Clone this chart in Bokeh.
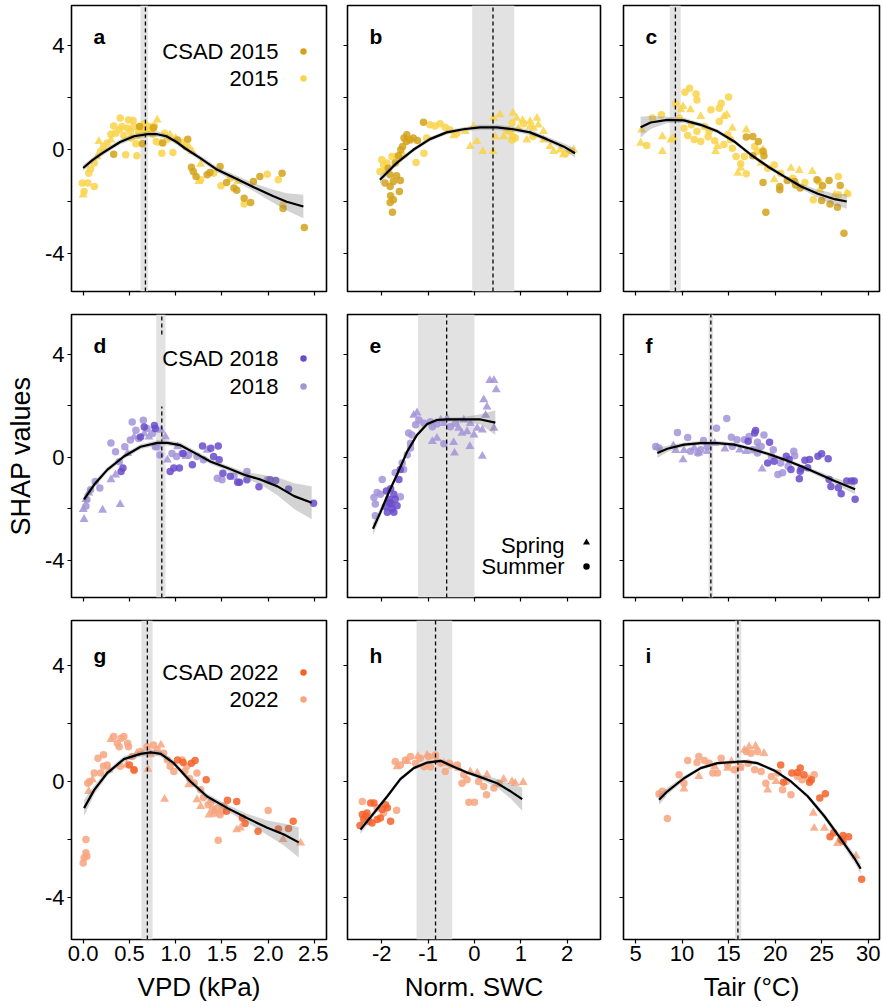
import numpy as np
from bokeh.plotting import figure
from bokeh.layouts import gridplot
from bokeh.models import Range1d, FixedTicker, BoxAnnotation
from bokeh.embed import file_html
from bokeh.resources import INLINE
from bokeh.core.properties import value

FONT = "Liberation Sans"

# ------------------------------------------------------------------ data
# panel a : VPD 2015
a_sum_x = [-0.01,0.01,0.05,0.12,0.06,0.08,0.12,0.19,0.22,0.26,0.33,0.35,0.39,0.40,0.42,0.46,0.48,0.49,0.51,0.54,
           0.55,0.57,0.58,0.62,0.65,0.66,0.71,0.73,0.77,0.79,0.85,0.88,0.91,0.97,1.07,1.11,1.27,1.41,1.49,1.59,
           1.74,1.99,2.11,2.16,0.30,0.44,0.52,0.60,0.68,0.75]
a_sum_y = [-1.28,-1.60,-1.28,-1.41,-0.90,-0.74,-0.51,-0.06,0.13,0.26,0.92,0.64,0.77,1.22,0.90,-0.19,0.83,1.15,0.71,1.13,
           0.90,0.23,-0.23,0.90,0.64,1.00,0.90,0.74,0.92,0.32,-0.13,0.64,0.41,-0.10,0.28,0.13,-1.15,-0.90,-1.38,-1.09,
           -2.08,-0.94,-1.15,-2.12,0.60,0.55,0.45,0.70,0.80,0.60]
a_spr_x = [0.00,0.15,0.17,0.30,0.58,0.69,0.80,0.84,0.94,1.00,1.14,1.18,1.25,1.27,1.67]
a_spr_y = [-1.73,-0.26,0.32,0.38,0.51,0.71,1.15,0.26,0.58,0.45,0.13,-0.06,-1.22,-0.55,-1.22]
a_csad_x = [0.33,0.61,0.64,0.76,0.86,1.02,1.13,1.17,1.19,1.22,1.34,1.37,1.48,1.55,1.63,1.66,1.74,1.81,1.84,1.91,2.15,2.16,2.39]
a_csad_y = [-0.17,0.90,0.23,0.85,0.26,0.38,0.41,-0.67,-0.83,-1.03,-0.96,-0.87,-0.64,-1.26,-1.47,-1.56,-1.86,-2.03,-1.22,-1.03,-0.90,-2.26,-2.99]
a_fit_x = [0.0,0.1,0.2,0.3,0.4,0.55,0.7,0.8,0.9,1.0,1.1,1.27,1.45,1.65,1.85,2.05,2.2,2.38]
a_fit_y = [-0.70,-0.40,-0.15,0.08,0.30,0.52,0.60,0.60,0.52,0.32,0.06,-0.33,-0.77,-1.10,-1.45,-1.78,-2.0,-2.18]
a_fit_ci = [0.12,0.1,0.1,0.1,0.1,0.1,0.1,0.1,0.1,0.1,0.1,0.1,0.1,0.12,0.15,0.25,0.33,0.45]
a_opt = 0.673
a_band = (0.62, 0.70)

# panel b : SWC 2015
b_sum_x = [-2.00,-1.96,-1.93,-2.04,-1.89,-1.78,-1.68,-1.57,-1.26,-1.09,-1.03,-0.96,-0.85,-0.74,-0.63,-0.53,-0.38,
           0.77,0.88,0.83,0.81,1.06,0.81,1.26,1.96]
b_sum_y = [-0.38,-0.58,-0.79,-0.83,-0.51,-0.26,-0.26,-0.19,-0.49,-0.13,0.45,0.96,0.92,1.00,0.87,0.77,0.64,
           0.71,0.45,0.51,1.03,1.00,0.38,0.51,-0.15]
b_spr_x = [-0.09,0.05,0.18,0.40,0.41,0.55,0.45,0.63,0.83,0.91,1.04,1.20,1.35,1.38,1.27,1.49,1.63,1.71,1.85,1.92,
           2.06,2.14,-0.02,-0.20,-0.45,1.13,0.70,0.95,1.49,1.20]
b_spr_y = [0.13,0.32,-0.06,-0.06,1.22,1.35,0.51,0.51,1.41,1.22,1.13,1.09,1.22,0.96,0.83,0.71,0.13,-0.06,0.0,-0.19,
           -0.06,0.0,0.90,0.71,0.54,0.38,0.71,0.83,0.38,0.90]
b_csad_x = [-1.10,-1.46,-1.52,-1.47,-1.39,-1.55,-1.59,-1.64,-1.71,-1.82,-1.68,-1.60,-1.75,-1.93,-1.82,-1.62,-1.81,
            -1.75,-1.82,-1.77,-1.32,-1.23,-1.86]
b_csad_y = [1.06,0.58,0.45,0.32,0.38,0.13,0.0,-0.23,-0.51,-0.96,-1.0,-1.18,-1.22,-1.28,-1.41,-1.60,-1.77,
            -1.92,-2.03,-2.40,0.45,0.36,-0.71]
b_fit_x = [-2.04,-1.68,-1.32,-0.96,-0.60,-0.24,0.12,0.48,0.84,1.20,1.56,1.92,2.17]
b_fit_y = [-1.15,-0.51,0.0,0.41,0.67,0.79,0.86,0.86,0.79,0.67,0.41,0.13,-0.13]
b_fit_ci = [0.15,0.1,0.08,0.08,0.08,0.08,0.1,0.1,0.1,0.1,0.1,0.12,0.18]
b_opt = 0.40
b_band = (-0.05, 0.86)

# panel c : Tair 2015
c_sum_x = [6.19,6.80,7.77,9.32,10.3,10.8,11.5,11.6,10.2,11.0,11.6,12.4,12.9,13.1,14.0,14.2,15.0,14.0,14.9,15.4,
           15.8,16.3,16.9,16.7,17.8,18.1,19.2,19.9,20.6,21.9,23.2,24.1,24.7,26.8,27.8,26.8,9.68,12.0,
           10.6,11.3,12.8,13.5,14.5,15.2]
c_sum_y = [0.17,1.22,1.35,1.77,2.21,2.37,2.15,1.92,0.83,0.96,0.71,0.90,0.71,1.54,1.60,1.79,2.03,1.09,0.58,0.06,
           -0.26,-0.54,-0.92,-0.26,0.13,-0.06,-0.71,-0.58,-0.90,-1.09,-1.26,-1.92,-1.22,-1.73,-1.69,-1.03,1.22,0.32,
           0.55,0.40,0.50,0.35,0.20,0.40]
c_spr_x = [5.54,5.65,7.88,7.88,8.78,9.06,9.86,10.1,10.9,12.0,13.6,13.8,14.5,14.8,15.4,16.9,16.0,16.3,18.7,18.5,
           19.9,21.7,22.6,24.0,24.8,26.4,27.7]
c_spr_y = [0.26,0.77,0.51,-0.06,0.38,0.45,1.54,1.67,1.54,1.28,-0.06,0.13,1.28,1.35,0.83,0.77,-0.90,-0.71,0.0,-0.51,
           -1.15,-0.71,-0.79,-0.83,-1.54,-1.73,-1.67]
c_csad_x = [16.9,18.2,18.7,18.8,18.7,19.0,20.5,20.5,21.3,22.1,22.2,22.7,24.5,25.1,25.8,25.0,25.9,26.7,27.0,27.4,17.6,17.6]
c_csad_y = [0.49,0.32,-0.06,-0.23,-1.26,-2.40,-1.41,-1.54,-1.18,-1.22,-1.35,-1.47,-1.15,-1.38,-1.18,-1.95,-2.08,-2.21,-1.37,-3.21,-0.23,0.51]
c_fit_x = [5.54,6.62,8.42,10.2,12.0,13.8,15.6,17.4,19.2,21.0,22.8,24.6,26.4,27.7]
c_fit_y = [0.87,1.05,1.15,1.13,0.96,0.71,0.32,-0.19,-0.64,-1.03,-1.41,-1.69,-1.90,-1.99]
c_fit_ci = [0.4,0.25,0.12,0.1,0.08,0.08,0.08,0.08,0.08,0.08,0.1,0.15,0.22,0.28]
c_opt = 9.28
c_band = (8.67, 9.85)

# panel d : VPD 2018
d_sum_x = [0.03,0.04,0.08,0.13,0.18,0.30,0.35,0.39,0.45,0.51,0.53,0.57,0.60,0.65,0.69,0.75,0.78,0.83,0.96,1.01,
           1.07,1.14,1.23,1.30,1.45,1.50,1.63,1.77,1.99,0.80]
d_sum_y = [-1.90,-1.64,-1.26,-0.94,-1.19,0.56,0.22,-0.17,0.41,0.67,1.37,1.05,0.73,1.44,1.12,0.92,0.41,0.09,0.15,0.03,
           0.15,0.09,0.03,-0.10,-0.81,-0.87,-0.74,-0.55,-0.87,0.41]
d_spr_x = [0.01,0.00,0.21,0.40,0.03,0.06,0.30,0.35,0.48,0.55,0.66,0.71,0.84,0.89,0.91,1.02,1.11,1.34]
d_spr_y = [-2.41,-2.03,-2.05,-1.83,-1.64,-1.38,-0.87,-0.68,0.15,0.79,0.92,0.79,1.05,0.79,-0.10,0.41,0.03,0.28]
d_csad_x = [0.62,0.66,0.77,0.78,0.94,0.98,1.04,1.08,1.18,1.29,1.38,1.46,1.47,1.51,1.59,1.67,1.69,1.77,1.90,2.02,
            2.08,2.22,2.49,0.41,0.43,1.41]
d_csad_y = [0.79,1.18,1.24,1.12,-0.55,-0.42,-0.42,0.15,-0.29,0.44,0.35,0.44,-0.10,-0.62,-0.74,-0.97,-0.97,-0.87,-1.15,-0.87,
            -0.90,-1.23,-1.79,-0.55,-0.42,0.03]
d_fit_x = [0.01,0.12,0.26,0.44,0.62,0.80,0.91,1.05,1.20,1.38,1.56,1.74,1.92,2.10,2.28,2.47]
d_fit_y = [-1.64,-1.06,-0.49,0.03,0.41,0.56,0.56,0.47,0.18,-0.17,-0.42,-0.68,-0.87,-1.13,-1.51,-1.77]
d_fit_ci = [0.18,0.12,0.1,0.1,0.1,0.1,0.1,0.1,0.1,0.1,0.1,0.12,0.2,0.35,0.5,0.64]
d_opt = 0.85
d_band = (0.79, 0.89)

# panel e : SWC 2018
e_sum_x = [-2.17,-2.14,-2.10,-2.03,-1.99,-2.14,-1.60,-1.71,-1.56,-1.45,-1.38,-1.35,-1.27,-1.20,-1.09,-0.95,-0.91,
           -0.81,-0.66,-0.52,-0.41,-1.53,-1.42,-1.38]
e_sum_y = [-1.56,-1.82,-1.37,-1.44,-0.86,-2.27,-1.53,-0.60,-0.22,0.10,0.36,0.87,1.26,1.45,1.32,1.38,1.19,
           1.29,0.53,1.19,1.32,-0.47,0.94,0.55]
e_spr_x = [-1.31,-1.24,-0.91,-0.81,-0.73,-0.66,-0.59,-0.45,-0.43,-0.34,-0.27,-0.16,-0.10,-0.01,0.06,0.17,0.20,0.27,
           0.24,0.17,0.33,0.42,0.47,0.42,-0.23,-0.09]
e_spr_y = [1.64,1.73,0.62,0.74,1.45,1.32,1.51,0.58,0.17,1.13,0.94,1.00,0.42,0.87,1.13,0.04,2.24,1.96,
           1.64,1.06,2.99,2.99,2.63,1.13,1.45,1.32]
e_csad_x = [-1.81,-1.90,-1.74,-1.85,-1.80,-1.74,-1.88,-1.67,-1.71,-1.78,-1.63,-1.60,-1.83,-1.92]
e_csad_y = [-1.22,-1.31,-1.44,-1.63,-1.82,-2.14,-2.14,-1.88,-1.63,-2.01,-0.86,-0.47,-1.76,-1.91]
e_fit_x = [-2.19,-2.03,-1.85,-1.67,-1.45,-1.24,-1.02,-0.81,-0.59,-0.23,0.13,0.45]
e_fit_y = [-2.78,-2.14,-1.37,-0.67,0.23,0.87,1.29,1.45,1.47,1.47,1.47,1.35]
e_fit_ci = [0.25,0.18,0.12,0.1,0.1,0.08,0.08,0.08,0.08,0.1,0.2,0.48]
e_opt = -0.60
e_band = (-1.22, 0.0)

# panel f : Tair 2018
f_sum_x = [7.16,7.52,9.50,10.6,10.9,11.7,12.0,12.3,12.7,13.7,14.8,15.3,15.4,15.9,16.7,17.2,17.6,18.1,18.5,18.8,
           18.1,19.6,20.3,20.8,21.4,22.0,22.1,20.6,19.8]
f_sum_y = [0.42,0.36,0.96,0.77,0.23,0.17,0.29,0.65,0.42,1.13,1.51,0.78,0.42,0.68,0.68,0.81,0.29,0.58,0.42,0.87,
           0.17,0.04,-0.67,-0.60,-0.35,0.23,0.06,-0.22,0.29]
f_spr_x = [7.34,9.06,9.32,10.1,10.2,11.3,11.8,12.7,13.5,14.6,16.2,16.9,18.6,18.1]
f_spr_y = [0.38,0.45,0.27,-0.09,0.27,0.36,0.17,0.23,0.55,0.33,0.29,0.23,-0.45,0.36]
f_csad_x = [17.9,17.8,17.1,19.4,19.2,19.9,21.2,21.5,21.7,22.6,22.8,23.2,23.5,23.7,24.6,25.0,25.7,25.8,26.0,26.8,
            27.1,27.7,28.2,28.5,28.6,22.7]
f_csad_y = [1.04,0.94,0.62,0.58,-0.22,-0.15,0.04,-0.09,-0.47,-0.83,-0.45,-0.12,-0.41,-0.09,0.04,0.14,-0.06,-0.86,-1.14,-1.18,
            -1.42,-0.92,-0.92,-0.92,-1.63,-0.54]
f_fit_x = [7.34,8.42,10.2,12.0,13.8,15.6,17.4,19.2,21.0,22.8,24.6,26.4,28.6]
f_fit_y = [0.17,0.33,0.49,0.55,0.55,0.49,0.33,0.14,-0.09,-0.35,-0.63,-0.92,-1.24]
f_fit_ci = [0.2,0.12,0.08,0.08,0.08,0.08,0.08,0.08,0.08,0.08,0.1,0.12,0.2]
f_opt = 13.09
f_band = (12.84, 13.34)

# panel g : VPD 2022
g_sum_x = [0.00,0.01,0.03,0.04,0.03,0.05,0.07,0.12,0.16,0.22,0.22,0.26,0.33,0.37,0.39,0.41,0.44,0.48,0.49,0.53,
           0.55,0.62,0.69,0.76,0.80,0.87,0.91,0.94,0.98,1.07,1.12,1.23,1.27,1.38,1.45,1.46,1.50,2.00,0.19,0.40,
           1.40,1.42,1.48,1.52,1.35,1.30,1.20,1.10,1.15]
g_sum_y = [-2.81,-2.63,-2.46,-2.58,-2.00,-0.06,0.00,0.29,0.80,0.92,0.52,0.57,1.55,1.32,1.20,1.49,1.55,1.32,1.20,0.86,
           0.38,1.03,1.20,1.26,1.09,0.97,0.74,0.52,0.34,0.74,0.52,0.29,-0.29,-0.72,-0.92,-2.03,-1.03,-1.00,0.29,0.52,
           -0.95,-1.10,-1.15,-0.85,-0.80,-0.55,-0.05,0.35,0.10]
g_spr_x = [0.30,0.28,0.10,0.06,0.47,0.58,0.70,0.73,0.84,0.88,1.14,1.23,1.27,1.36,1.41,1.66,1.70,2.16,2.35]
g_spr_y = [1.45,0.40,0.06,-0.34,0.57,0.97,0.42,0.92,1.26,-0.61,-0.11,-0.63,-0.86,-1.15,-1.03,-1.66,-1.60,-2.00,-2.12]
g_csad_x = [0.50,0.55,1.02,1.08,1.17,1.21,1.33,1.56,1.55,1.66,1.72,1.75,1.89,2.11,2.22,2.27]
g_csad_y = [0.57,0.40,0.74,0.65,0.63,0.72,0.06,-0.65,-1.03,-0.69,-1.26,-1.45,-1.72,-1.64,-1.62,-1.37]
g_fit_x = [0.01,0.12,0.26,0.44,0.62,0.73,0.84,0.98,1.16,1.34,1.56,1.77,1.99,2.17,2.33]
g_fit_y = [-0.92,-0.29,0.29,0.77,0.95,1.0,0.95,0.63,0.0,-0.52,-0.92,-1.26,-1.60,-1.83,-2.10]
g_fit_ci = [0.28,0.15,0.1,0.1,0.1,0.1,0.1,0.1,0.1,0.1,0.12,0.15,0.25,0.38,0.52]
g_opt = 0.694
g_band = (0.63, 0.75)

# panel h : SWC 2022
h_sum_x = [-2.42,-2.10,-1.96,-1.68,-1.71,-1.60,-1.49,-1.38,-1.27,-1.17,-1.09,-0.99,-0.95,-0.84,-0.73,-0.63,-0.55,
           -0.37,-0.27,-0.23,-0.16,-0.12,0.00,0.09,0.20,0.26,0.42,0.53]
h_sum_y = [-0.69,-0.91,-1.09,-0.99,0.69,0.57,0.74,0.86,0.63,0.80,0.51,0.86,0.51,0.91,0.63,0.34,0.63,
           0.57,-0.06,0.23,0.06,-0.72,-0.72,0.00,-0.17,-0.46,-0.23,-0.06]
h_spr_x = [-1.67,-1.45,-1.22,-1.02,-0.88,-0.81,-0.66,-0.48,-0.34,-0.09,0.06,0.27,0.63,0.81,1.05,0.88]
h_spr_y = [0.51,0.69,0.86,0.91,0.86,0.74,0.63,0.54,0.46,0.34,0.29,0.23,0.08,0.00,-0.03,-0.06]
h_csad_x = [-2.47,-2.42,-2.39,-2.32,-2.28,-2.21,-2.17,-2.10,-2.03,-1.99,-1.92,-1.88,-1.81,-2.24,-2.35]
h_csad_y = [-1.52,-1.14,-1.31,-1.09,-1.37,-1.43,-0.74,-1.31,-1.26,-0.97,-0.80,-0.91,-1.37,-0.74,-1.20]
h_fit_x = [-2.46,-2.17,-1.88,-1.60,-1.31,-1.02,-0.73,-0.45,-0.16,0.13,0.49,0.78,1.03]
h_fit_y = [-1.66,-1.09,-0.51,0.08,0.46,0.65,0.71,0.51,0.31,0.15,-0.06,-0.34,-0.61]
h_fit_ci = [0.15,0.1,0.08,0.08,0.06,0.06,0.06,0.06,0.06,0.08,0.15,0.25,0.4]
h_opt = -0.84
h_band = (-1.25, -0.48)

# panel i : Tair 2022
i_sum_x = [7.52,7.88,8.42,9.68,10.6,11.6,11.8,12.4,12.9,13.3,13.8,14.2,14.9,15.6,16.3,16.9,17.4,18.1,18.5,19.0,
           19.6,20.3,20.8,21.2,21.7,22.4,22.9,23.6,24.2,17.8,17.1,10.2]
i_sum_y = [-0.42,-0.34,-1.28,0.23,0.72,0.65,0.86,0.72,0.63,0.29,0.29,0.80,0.57,0.40,0.51,1.03,0.97,1.03,0.34,-0.06,
           0.17,0.29,-0.29,0.00,-0.46,0.17,0.06,0.11,0.23,0.40,0.63,-0.06]
i_spr_x = [7.70,10.2,11.8,13.5,14.9,15.3,16.2,16.7,17.2,17.9,18.8,19.2,20.1,24.1,24.2,25.3,26.7,28.7]
i_spr_y = [-0.46,-0.26,0.17,0.51,0.46,0.69,0.46,1.09,1.20,1.22,0.97,-0.29,0.00,-1.09,-1.61,-1.61,-2.14,-2.57]
i_csad_x = [20.6,20.9,21.8,22.4,22.7,23.1,23.7,23.9,24.8,25.4,25.9,26.3,27.1,27.3,27.9,27.3,29.3]
i_csad_y = [0.57,-0.03,0.29,0.31,0.46,0.23,-0.03,0.06,-0.57,-0.42,-1.91,-1.77,-2.00,-2.06,-1.91,-1.86,-3.37]
i_fit_x = [7.52,8.42,10.2,12.0,13.8,15.6,16.7,18.1,19.9,21.7,23.5,25.3,27.1,28.6,29.2]
i_fit_y = [-0.63,-0.34,0.11,0.46,0.63,0.67,0.69,0.63,0.38,0.0,-0.51,-1.20,-2.0,-2.69,-3.01]
i_fit_ci = [0.18,0.12,0.08,0.06,0.06,0.06,0.06,0.06,0.06,0.06,0.08,0.1,0.12,0.15,0.18]
i_opt = 16.0
i_band = (15.68, 16.36)

years = [2015, 2018, 2022]
letters = ["a", "b", "c", "d", "e", "f", "g", "h", "i"]
x_titles = ["VPD (kPa)", "Norm. SWC", "Tair (\u00b0C)"]
x_ticks = [[0, 0.5, 1.0, 1.5, 2.0, 2.5], [-2, -1, 0, 1, 2], [5, 10, 15, 20, 25, 30]]
x_tick_labels = [["0.0", "0.5", "1.0", "1.5", "2.0", "2.5"], ["-2", "-1", "0", "1", "2"],
                 ["5", "10", "15", "20", "25", "30"]]
y_major = [-4, 0, 4]
y_major_labels = ["-4", "0", "4"]
y_minor = [-2, 2]
season_labels = ["Spring", "Summer"]

# colours: (normal year, CSAD)
COL = {2015: ("#F9D44A", "#D4A21A"), 2018: ("#A394D8", "#6A4BCB"), 2022: ("#F7A57E", "#F4622A")}

# ------------------------------------------------------------------ layout (page has no margin)
XR = [(-0.126, 2.63), (-2.74, 2.72), (3.70, 31.22)]
YR = (-5.45, 5.55)
FW = [255, 253, 256]
FH = [286, 283, 319]
BL = [71, 19, 21]
BR = [2, 2, 3]
BT = [5, 2, 2]
BB = [21, 21, 68]

panels = {}
for L in letters:
    g = globals()
    panels[L] = dict(sum_x=g[L + "_sum_x"], sum_y=g[L + "_sum_y"], spr_x=g[L + "_spr_x"], spr_y=g[L + "_spr_y"],
                     csad_x=g[L + "_csad_x"], csad_y=g[L + "_csad_y"], fx=g[L + "_fit_x"], fy=g[L + "_fit_y"],
                     fci=g[L + "_fit_ci"], opt=g[L + "_opt"], band=g[L + "_band"])


def frame_xy(row, col, px, py):
    """pixel offset from frame top-left -> data coordinates"""
    x0, x1 = XR[col]
    y0, y1 = YR
    return x0 + px / FW[col] * (x1 - x0), y1 - py / FH[row] * (y1 - y0)


def style_axis(ax, show_labels):
    ax.axis_line_color = None
    ax.major_tick_line_color = "black"
    ax.major_tick_line_width = 1.2
    ax.major_tick_out = 4
    ax.major_tick_in = 0
    ax.minor_tick_line_color = "black"
    ax.minor_tick_line_width = 1.2
    ax.minor_tick_out = 4
    ax.minor_tick_in = 0
    ax.major_label_text_font = FONT
    ax.axis_label_text_font = FONT
    ax.axis_label_text_font_style = "normal"
    ax.axis_label_text_color = "black"
    if show_labels:
        ax.major_label_text_color = "black"
        ax.major_label_text_font_size = "22px"
    else:
        ax.major_label_text_color = None
        ax.major_label_text_font_size = "1px"
        ax.major_label_standoff = 0


def make_panel(row, col):
    L = letters[row * 3 + col]
    P = panels[L]
    year = years[row]
    light, dark = COL[year]
    p = figure(width=BL[col] + FW[col] + BR[col], height=BT[row] + FH[row] + BB[row],
               x_range=Range1d(*XR[col]), y_range=Range1d(*YR),
               output_backend="svg", toolbar_location=None,
               min_border_left=BL[col], min_border_right=BR[col],
               min_border_top=BT[row], min_border_bottom=BB[row])
    p.xgrid.visible = False
    p.ygrid.visible = False
    p.outline_line_color = "black"
    p.outline_line_width = 1.6
    p.outline_line_alpha = 1.0
    p.background_fill_color = "white"
    p.border_fill_color = "white"

    # optimum band
    p.add_layout(BoxAnnotation(left=P["band"][0], right=P["band"][1], fill_color="#E2E2E2",
                               fill_alpha=1.0, line_color=None, level="underlay"))

    # points
    p.scatter(P["sum_x"], P["sum_y"], marker="circle", size=7.5, fill_color=light,
              line_color=None, fill_alpha=0.85)
    p.scatter(P["spr_x"], P["spr_y"], marker="triangle", size=9, fill_color=light,
              line_color=None, fill_alpha=0.85)
    p.scatter(P["csad_x"], P["csad_y"], marker="circle", size=7.5, fill_color=dark,
              line_color=None, fill_alpha=0.85)

    # dashed optimum line (interrupted by the legend box in panel d)
    if L == "d":
        _, ya = frame_xy(row, col, 0, 20)
        _, yb = frame_xy(row, col, 0, 92)
        segs = [(YR[0], yb), (ya, YR[1])]
    else:
        segs = [YR]
    for (s0, s1) in segs:
        p.segment(x0=[P["opt"]], y0=[s0], x1=[P["opt"]], y1=[s1], line_color="black",
                  line_width=1.3, line_dash="4 3")

    # fit + ribbon
    fx = np.array(P["fx"])
    fy = np.array(P["fy"])
    fci = np.array(P["fci"])
    p.varea(x=fx, y1=fy - fci, y2=fy + fci, fill_color="#808080", fill_alpha=0.35)
    p.line(fx, fy, line_color="black", line_width=2.2)

    # panel letter
    lx, ly = frame_xy(row, col, 22, 31 if row < 2 else 35)
    p.text(x=[lx], y=[ly], text=[L], text_font=value(FONT), text_font_size="21px",
           text_font_style="bold", text_color="black", text_align="left", text_baseline="alphabetic")

    # legends
    if col == 0:
        offs = [(46, 73), (44, 72), (52, 79)][row]
        for lab, c, oy in [("CSAD %d" % year, dark, offs[0]), ("%d" % year, light, offs[1])]:
            tx, ty = frame_xy(row, col, 207, oy)
            mx, my = frame_xy(row, col, 232, oy)
            p.text(x=[tx], y=[ty], text=[lab], text_font=value(FONT), text_font_size="22px",
                   text_color="black", text_align="right", text_baseline="middle")
            p.scatter([mx], [my], marker="circle", size=6.5, fill_color=c, line_color=None)
    if L == "e":
        for lab, mk, oy, my_off in [(season_labels[0], "triangle", 231, 228), (season_labels[1], "circle", 252, 252)]:
            tx, ty = frame_xy(row, col, 217, oy)
            mx, my = frame_xy(row, col, 239, my_off)
            p.text(x=[tx], y=[ty], text=[lab], text_font=value(FONT), text_font_size="22px",
                   text_color="black", text_align="right", text_baseline="middle")
            p.scatter([mx], [my], marker=mk, size=7 if mk == "triangle" else 6.5,
                      fill_color="black", line_color=None)

    # axes
    xa = p.xaxis[0]
    ya_ = p.yaxis[0]
    style_axis(xa, row == 2)
    style_axis(ya_, col == 0)
    xa.ticker = FixedTicker(ticks=x_ticks[col], minor_ticks=[])
    ya_.ticker = FixedTicker(ticks=y_major, minor_ticks=y_minor)
    if row == 2:
        xa.major_label_overrides = {t: s for t, s in zip(x_ticks[col], x_tick_labels[col])}
        xa.major_label_standoff = 2
        xa.axis_label = x_titles[col]
        xa.axis_label_text_font_size = "26px"
        xa.axis_label_standoff = 8
    if col == 0:
        ya_.major_label_overrides = {t: s for t, s in zip(y_major, y_major_labels)}
        ya_.major_label_standoff = 3
        if row == 1:
            ya_.axis_label = "SHAP values"
            ya_.axis_label_text_font_size = "27px"
            ya_.axis_label_standoff = 6
    return p


grid = [[make_panel(r, c) for c in range(3)] for r in range(3)]
p = gridplot(grid, toolbar_location=None)

open("out.html", "w").write(file_html(p, INLINE))
